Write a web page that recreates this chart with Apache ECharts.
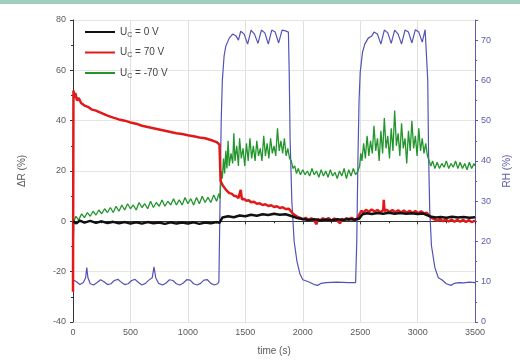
<!DOCTYPE html>
<html>
<head>
<meta charset="utf-8">
<script src="https://cdn.jsdelivr.net/npm/echarts@6/dist/echarts.min.js"></script>
<style>
  html, body { margin: 0; padding: 0; background: #fff; }
  #chart { width: 520px; height: 364px; }
</style>
</head>
<body>
<div id="chart"></div>
<script>
// Uc = 0 V  [time s, dR %]
const u0 = [
  [0, 0], [30, -0.8], [60, 0.3], [100, -0.5], [150, 0.2], [200, -0.6], [250, 0], [300, -0.7],
  [350, -0.2], [400, -0.8], [450, -0.3], [500, -0.9], [550, -0.4], [600, -0.9], [650, -0.3],
  [700, -0.8], [750, -0.5], [800, -1], [850, -0.4], [900, -0.9], [950, -0.5], [1000, -0.9],
  [1050, -0.4], [1100, -1], [1150, -0.5], [1200, -0.8], [1250, -0.3], [1275, -0.6], [1300, 1.5],
  [1350, 2], [1400, 1.6], [1450, 2.3], [1500, 2], [1550, 2.6], [1600, 2.2], [1650, 2.8],
  [1700, 2.5], [1750, 3], [1800, 2.6], [1850, 2.8], [1880, 2.4], [1920, 1.8], [1960, 1.2],
  [2000, 0.9], [2050, 0.5], [2100, 0.8], [2150, 0.3], [2200, 0.7], [2250, 0.4], [2300, 0.8],
  [2350, 0.5], [2400, 0.9], [2450, 0.6], [2490, 1], [2520, 2.8], [2560, 3.2], [2600, 2.9],
  [2650, 3.3], [2700, 3], [2750, 3.4], [2800, 3], [2850, 3.3], [2900, 3], [2950, 3.2],
  [3000, 2.9], [3050, 3.1], [3080, 2.5], [3120, 1.8], [3160, 1.5], [3200, 1.7], [3250, 1.4],
  [3300, 1.8], [3350, 1.5], [3400, 1.7], [3450, 1.4], [3500, 1.6]
];

// Uc = 70 V
const u70 = [
  [0, -28], [4, 52], [12, 49], [20, 51], [35, 48], [50, 49], [70, 47], [100, 46], [130, 45.5],
  [160, 44.5], [200, 44], [250, 43], [300, 42], [350, 41.2], [400, 40.5], [450, 40], [500, 39.3],
  [550, 38.8], [600, 38], [650, 37.5], [700, 37], [750, 36.5], [800, 36], [850, 35.5], [900, 35],
  [950, 34.7], [1000, 34.2], [1050, 33.8], [1100, 33.3], [1150, 33], [1200, 32.3], [1250, 31.5],
  [1275, 30.5], [1285, 16], [1300, 14.5], [1315, 13.8], [1330, 12.6], [1345, 12.2], [1360, 11.2],
  [1380, 11], [1400, 10.2], [1420, 10], [1440, 9.2], [1455, 9.6], [1460, 12.5], [1470, 8.8],
  [1490, 8.9], [1510, 8.2], [1530, 8.4], [1550, 7.6], [1575, 7.8], [1600, 7], [1625, 7.2],
  [1650, 6.5], [1675, 6.8], [1700, 6.1], [1725, 6.4], [1750, 5.7], [1775, 6], [1800, 5.3],
  [1825, 5.6], [1850, 4.9], [1880, 5], [1900, 3.8], [1920, 2.8], [1940, 2.2], [1960, 1.6],
  [1980, 1.3], [2000, 0.7], [2025, 1.4], [2050, 0.5], [2075, 1.2], [2100, 0.2], [2120, -1.2],
  [2130, 1], [2150, 0.3], [2175, 1.2], [2200, 0.4], [2225, 1.3], [2250, 0.2], [2275, 1.1],
  [2300, 0.3], [2325, -0.8], [2340, 1], [2360, 0.4], [2380, 1.3], [2400, 0.5], [2425, 1.4],
  [2450, 0.6], [2475, 1.2], [2490, 2.5], [2510, 4.2], [2530, 3.5], [2550, 4.6], [2575, 3.8],
  [2600, 4.7], [2625, 3.9], [2650, 4.5], [2675, 3.6], [2700, 4.4], [2705, 8.5], [2712, 4],
  [2730, 4.6], [2755, 3.7], [2780, 4.5], [2805, 3.6], [2830, 4.4], [2855, 3.5], [2880, 4.3],
  [2905, 3.4], [2930, 4.2], [2955, 3.3], [2980, 4.1], [3005, 3.2], [3030, 4], [3055, 3.1],
  [3080, 3.4], [3100, 2.2], [3120, 1.4], [3145, 0.9], [3170, 0.2], [3195, 0.9], [3220, 0],
  [3245, 0.8], [3270, -0.1], [3295, 0.7], [3320, -0.2], [3345, 0.6], [3370, -0.2], [3395, 0.6],
  [3420, -0.3], [3445, 0.5], [3470, -0.3], [3500, 0.3]
];

// Uc = -70 V
const um70 = [
  [0, -10], [8, 0], [25, 2], [50, 0.5], [75, 3], [100, 1.5], [125, 3.5], [150, 2], [175, 4],
  [200, 2.5], [225, 4.5], [250, 3], [275, 5], [300, 3.5], [325, 5.5], [350, 3.5], [375, 6],
  [400, 4], [425, 6.5], [450, 4.5], [475, 7], [500, 5], [525, 6.5], [550, 4.5], [575, 7.5],
  [600, 5.5], [625, 7], [650, 5], [675, 8], [700, 5.5], [725, 7.5], [750, 6], [775, 8.5],
  [800, 6], [825, 8], [850, 6.5], [875, 9], [900, 6.5], [925, 8.5], [950, 6.5], [975, 9.5],
  [1000, 7], [1025, 9], [1050, 6.5], [1075, 9.5], [1100, 7], [1125, 10], [1150, 7.5],
  [1175, 9.5], [1200, 7.5], [1225, 10.5], [1250, 8], [1270, 11], [1280, 9], [1290, 20],
  [1300, 17], [1310, 25], [1320, 19], [1330, 28], [1340, 21], [1350, 32], [1360, 22],
  [1375, 27], [1390, 23], [1400, 35], [1410, 24], [1425, 30], [1440, 22], [1450, 33],
  [1465, 25], [1480, 29], [1495, 22], [1510, 31], [1525, 24], [1540, 33], [1555, 25],
  [1570, 30], [1585, 24], [1600, 32], [1615, 26], [1630, 29], [1645, 24], [1660, 34],
  [1675, 26], [1690, 31], [1705, 25], [1720, 33], [1735, 27], [1750, 30], [1765, 26],
  [1780, 37], [1795, 28], [1810, 32], [1825, 27], [1840, 33], [1855, 26], [1870, 29],
  [1885, 25], [1900, 24], [1915, 21], [1930, 22], [1945, 19], [1960, 21], [1980, 18.5],
  [2000, 20.5], [2020, 18.5], [2040, 20], [2060, 18], [2080, 21], [2100, 18.5], [2120, 20],
  [2140, 17.5], [2160, 20.5], [2180, 18], [2200, 20], [2220, 17.5], [2240, 20.5], [2260, 18],
  [2280, 19.5], [2300, 17], [2320, 20], [2340, 18], [2360, 21], [2380, 17], [2400, 20.5],
  [2420, 18], [2440, 21], [2460, 18.5], [2480, 20], [2495, 22], [2505, 27], [2515, 24],
  [2530, 31], [2545, 25], [2560, 34], [2575, 26], [2590, 32], [2605, 27], [2620, 38],
  [2635, 28], [2650, 33], [2665, 24], [2680, 36], [2695, 27], [2710, 41], [2725, 29],
  [2740, 34], [2755, 25], [2770, 37], [2785, 28], [2800, 44], [2815, 30], [2830, 35],
  [2845, 26], [2860, 39], [2875, 29], [2890, 33], [2905, 23], [2920, 36], [2935, 28],
  [2950, 40], [2965, 29], [2980, 34], [2995, 26], [3010, 37], [3025, 28], [3040, 33],
  [3055, 27], [3070, 31], [3085, 26], [3100, 24], [3115, 22], [3130, 24], [3150, 21],
  [3170, 23.5], [3190, 21], [3210, 23], [3230, 21.5], [3250, 24], [3270, 21], [3290, 23],
  [3310, 21.5], [3330, 24], [3350, 21], [3370, 23.5], [3390, 21], [3410, 23], [3430, 20.5],
  [3450, 23.5], [3470, 21], [3490, 23], [3500, 22]
];

// relative humidity, right axis
const rh = [
  [0, 10.5], [30, 10], [60, 9.3], [90, 9.8], [110, 11], [120, 13.5], [130, 11], [150, 9.5],
  [180, 9.2], [210, 9.8], [240, 10.5], [270, 10], [300, 9.3], [330, 9.5], [360, 10.3],
  [390, 10.6], [420, 9.9], [450, 9.3], [480, 9.5], [510, 10.3], [540, 10.6], [570, 9.8],
  [600, 9.2], [630, 9.6], [660, 10.4], [690, 11], [705, 13.7], [720, 11], [745, 9.6],
  [780, 9.2], [810, 9.7], [840, 10.5], [870, 10.3], [900, 9.5], [930, 9.2], [960, 9.7],
  [990, 10.5], [1020, 10.4], [1050, 9.5], [1080, 9.2], [1110, 9.6], [1140, 10.4], [1170, 10.5],
  [1200, 9.6], [1230, 9.2], [1260, 9.5], [1270, 10], [1280, 30], [1290, 50], [1300, 60],
  [1315, 66], [1330, 68.5], [1360, 70.5], [1390, 71.5], [1420, 71], [1440, 70], [1460, 72.2],
  [1490, 71.5], [1520, 69], [1550, 72.5], [1580, 71.5], [1610, 69.2], [1640, 72.5],
  [1670, 71.8], [1700, 69], [1730, 72.5], [1760, 72], [1790, 69.3], [1820, 72.5], [1850, 72.3],
  [1875, 72], [1882, 62], [1890, 45], [1905, 30], [1925, 20], [1950, 15], [1975, 12],
  [2000, 10.5], [2050, 10], [2100, 9.3], [2130, 9.1], [2160, 9.6], [2200, 9.8], [2300, 9.9],
  [2400, 9.8], [2460, 9.8], [2470, 20], [2480, 40], [2490, 55], [2500, 62], [2520, 67],
  [2540, 69], [2570, 70.5], [2600, 71], [2620, 72], [2650, 71.5], [2680, 69], [2710, 72.5],
  [2740, 71.8], [2770, 69.2], [2800, 72.5], [2830, 71.5], [2860, 69], [2890, 72.5], [2920, 72],
  [2950, 69.3], [2980, 72.6], [3010, 72], [3040, 69.5], [3065, 72.6], [3080, 72.3], [3088, 60],
  [3095, 42], [3105, 28], [3120, 19], [3150, 13.5], [3180, 11], [3210, 10.5], [3250, 9.5],
  [3290, 9.1], [3320, 9.6], [3360, 9.8], [3400, 9.7], [3450, 9.9], [3500, 9.8]
];

const legendText = {
  u0: '{u|U}{s|C}{u| = 0 V}',
  u70: '{u|U}{s|C}{u| = 70 V}',
  um70: '{u|U}{s|C}{u| = -70 V}'
};

const chart = echarts.init(document.getElementById('chart'));
const gray = '#5a5a5a';
const blueAxis = '#5c5ca8';

chart.setOption({
  animation: false,
  backgroundColor: '#fff',
  textStyle: { fontFamily: 'Liberation Sans, Arial, sans-serif' },
  graphic: [
    { type: 'rect', shape: { x: 0, y: 0, width: 520, height: 4 }, style: { fill: '#9fcdbf' } }
  ],
  grid: { left: 73, right: 39, top: 20, bottom: 42 },
  legend: {
    orient: 'vertical',
    left: 80,
    top: 22,
    itemWidth: 30,
    itemHeight: 2,
    itemGap: 9,
    icon: 'rect',
    data: ['u0', 'u70', 'um70'],
    formatter: (name) => legendText[name],
    textStyle: {
      color: '#444',
      rich: {
        u: { fontSize: 10, color: '#444' },
        s: { fontSize: 7, color: '#444', padding: [6, 0, 0, 0] }
      }
    }
  },
  xAxis: {
    type: 'value',
    min: 0, max: 3500, interval: 500,
    name: 'time (s)',
    nameLocation: 'middle',
    nameGap: 24,
    nameTextStyle: { color: gray, fontSize: 10 },
    axisLine: { lineStyle: { color: '#333' } },
    axisTick: { inside: false, length: 3, lineStyle: { color: '#333' } },
    minorTick: { show: true, splitNumber: 2, length: 2, lineStyle: { color: '#333' } },
    axisLabel: { color: gray, fontSize: 9, margin: 6, formatter: (v) => String(v) },
    splitLine: { lineStyle: { color: '#e0e0e0' } }
  },
  yAxis: [
    {
      type: 'value',
      min: -40, max: 80, interval: 20,
      name: 'ΔR (%)',
      nameLocation: 'middle',
      nameGap: 46,
      nameTextStyle: { color: gray, fontSize: 10 },
      axisLine: { show: true, lineStyle: { color: '#333' } },
      axisTick: { show: true, length: 3, lineStyle: { color: '#333' } },
      minorTick: { show: true, splitNumber: 2, length: 2, lineStyle: { color: '#333' } },
      axisLabel: { color: gray, fontSize: 9, margin: 7 },
      splitLine: { lineStyle: { color: '#e6e6dc' } }
    },
    {
      type: 'value',
      min: 0, max: 75, interval: 10,
      name: 'RH (%)',
      nameLocation: 'middle',
      nameGap: 24,
      nameTextStyle: { color: blueAxis, fontSize: 10 },
      axisLine: { show: true, lineStyle: { color: blueAxis } },
      axisTick: { show: true, length: 3, lineStyle: { color: blueAxis } },
      minorTick: { show: true, splitNumber: 2, length: 2, lineStyle: { color: blueAxis } },
      axisLabel: { color: blueAxis, fontSize: 9, margin: 6, showMaxLabel: false },
      splitLine: { show: false }
    }
  ],
  series: [
    { name: 'rh', type: 'line', yAxisIndex: 1, data: rh, showSymbol: false, z: 1,
      lineStyle: { color: '#5353b5', width: 1.2 }, itemStyle: { color: '#5353b5' } },
    { name: 'um70', type: 'line', data: um70, showSymbol: false, z: 2,
      lineStyle: { color: '#22952c', width: 1.3 }, itemStyle: { color: '#22952c' } },
    { name: 'u70', type: 'line', data: u70, showSymbol: false, z: 3,
      lineStyle: { color: '#e01a1a', width: 2.5 }, itemStyle: { color: '#e01a1a' } },
    { name: 'u0', type: 'line', data: u0, showSymbol: false, z: 4,
      lineStyle: { color: '#111', width: 2.5 }, itemStyle: { color: '#111' } }
  ]
});
</script>
</body>
</html>
